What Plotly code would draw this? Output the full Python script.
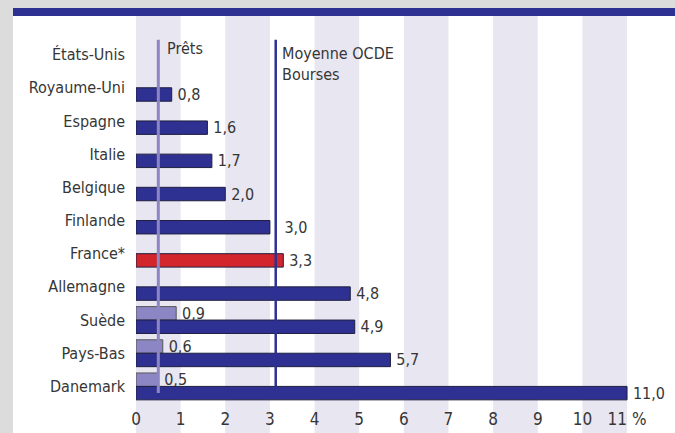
import plotly.graph_objects as go

countries = ["États-Unis", "Royaume-Uni", "Espagne", "Italie", "Belgique", "Finlande",
             "France*", "Allemagne", "Suède", "Pays-Bas", "Danemark"]
bourses = [None, 0.8, 1.6, 1.7, 2.0, 3.0, 3.3, 4.8, 4.9, 5.7, 11.0]
prets = [None, None, None, None, None, None, None, None, 0.9, 0.6, 0.5]
moyenne_prets = 0.5
moyenne_bourses = 3.13
xticks = [0, 1, 2, 3, 4, 5, 6, 7, 8, 9, 10, 11]
xticklabels = ["0", "1", "2", "3", "4", "5", "6", "7", "8", "9", "10", "11 %"]

FONT = "Liberation Sans Narrow, DejaVu Sans Condensed, Arial Narrow, sans-serif"
TXT = "#363636"
DARK = "#2e3192"
LIGHT = "#8c87c4"
RED = "#d3252c"
STRIPE = "#e8e6f1"
GREY = "#dcdcdd"


def fmt(v, avoid=None):
    if v is None:
        return ""
    s = f"{v:.1f}".replace(".", ",")
    pad = "\u2009"
    if avoid is not None and v < avoid < v + 0.3:
        pad = "\u2009\u2009\u2009\u2009"
    return pad + s


bourse_colors = [RED if c == "France*" else DARK for c in countries]

fig = go.Figure()
fig.add_trace(go.Bar(
    y=countries, x=prets, orientation="h", name="Prêts",
    marker=dict(color=LIGHT, line=dict(color="#555555", width=1)),
    text=[fmt(v) for v in prets], textposition="outside", constraintext="none",
    textfont=dict(family=FONT, size=16, color=TXT), cliponaxis=False,
))
fig.add_trace(go.Bar(
    y=countries, x=bourses, orientation="h", name="Bourses",
    marker=dict(color=bourse_colors, line=dict(color="#1f1f3f", width=1)),
    text=[fmt(v, moyenne_bourses) for v in bourses], textposition="outside",
    constraintext="none",
    textfont=dict(family=FONT, size=16, color=TXT), cliponaxis=False,
))

W, H = 675, 433
ML, MR, MT, MB = 136, 0, 38, 30
pw = W - ML - MR
ph = H - MT - MB


def px_to_paper_x(px):
    return (px - ML) / pw


def px_to_paper_y(py):
    return (H - MB - py) / ph


shapes = []
# white panel and blue band
shapes.append(dict(type="rect", xref="paper", yref="paper", layer="below",
                   x0=px_to_paper_x(13), x1=px_to_paper_x(680),
                   y0=px_to_paper_y(440), y1=px_to_paper_y(16),
                   fillcolor="white", line=dict(width=0)))
shapes.append(dict(type="rect", xref="paper", yref="paper", layer="below",
                   x0=px_to_paper_x(13), x1=px_to_paper_x(680),
                   y0=px_to_paper_y(16), y1=px_to_paper_y(8),
                   fillcolor=DARK, line=dict(width=0)))
# vertical stripes
for k in range(0, 11, 2):
    shapes.append(dict(type="rect", xref="x", yref="paper", layer="below",
                       x0=k, x1=k + 1, y0=px_to_paper_y(440), y1=px_to_paper_y(16),
                       fillcolor=STRIPE, line=dict(width=0)))
# average lines
shapes.append(dict(type="line", xref="x", yref="y", x0=moyenne_bourses, x1=moyenne_bourses,
                   y0=-0.45, y1=10.0, line=dict(color=DARK, width=2.5)))
shapes.append(dict(type="line", xref="x", yref="y", x0=moyenne_prets, x1=moyenne_prets,
                   y0=-0.45, y1=10.2, line=dict(color=LIGHT, width=3)))

annotations = [
    dict(x=moyenne_prets, xshift=7, y=-0.18, xref="x", yref="y", text="Prêts",
         showarrow=False, xanchor="left", yanchor="middle",
         font=dict(family=FONT, size=16, color=TXT)),
    dict(x=moyenne_bourses, xshift=4, y=0.28, xref="x", yref="y",
         text="Moyenne OCDE<br>Bourses", align="left",
         showarrow=False, xanchor="left", yanchor="middle",
         font=dict(family=FONT, size=16, color=TXT)),
]

fig.update_layout(
    width=W, height=H,
    margin=dict(l=ML, r=MR, t=MT, b=MB, pad=0),
    paper_bgcolor=GREY, plot_bgcolor="rgba(0,0,0,0)",
    barmode="group", bargap=0.19, bargroupgap=0,
    showlegend=False,
    shapes=shapes, annotations=annotations,
    font=dict(family=FONT, size=16, color=TXT),
    xaxis=dict(range=[0, pw / 44.64], tickvals=xticks, ticktext=xticklabels,
               showgrid=False, zeroline=False, showline=False, ticks="",
               tickfont=dict(family=FONT, size=17, color=TXT), ticklabelstandoff=4),
    yaxis=dict(range=[10.5, -0.5], type="category", categoryorder="array",
               categoryarray=countries, showgrid=False, zeroline=False,
               showline=False, ticks="", ticklabelstandoff=10,
               tickfont=dict(family=FONT, size=16, color=TXT)),
)

fig.write_html("out.html", config={"displayModeBar": False},
               post_script="document.body.style.margin='0';document.body.style.overflow='hidden';")
